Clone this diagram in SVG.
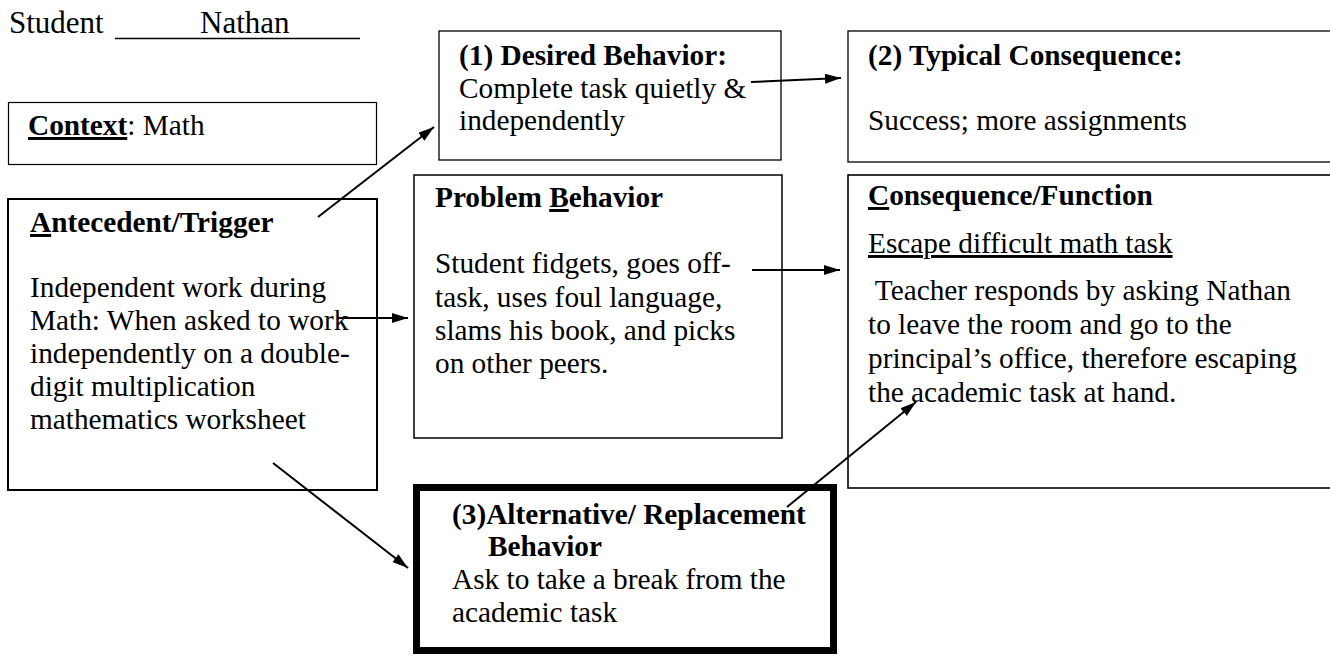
<svg xmlns="http://www.w3.org/2000/svg" width="1330" height="656" viewBox="0 0 1330 656">
<defs>
<style>
text{font-family:"Liberation Serif","Times New Roman",serif;font-size:29.3px;fill:#000}
.b{font-weight:bold}
.u{text-decoration:underline}
.box{fill:#fff;stroke:#000}
.conn line{stroke:#000;stroke-width:2}
</style>
<marker id="ah" markerUnits="userSpaceOnUse" markerWidth="18" markerHeight="12" refX="16" refY="5" orient="auto">
<path d="M0,0 L16,5 L0,10 Z" fill="#000"/>
</marker>
</defs>
<rect width="1330" height="656" fill="#fff"/>
<g id="student">
<text x="9" y="33" style="font-size:31px">Student</text>
<text x="200" y="33" style="font-size:31px">Nathan</text>
<line x1="115" y1="38.5" x2="360" y2="38.5" stroke="#000" stroke-width="1.6"/>
</g>
<g id="context">
<rect class="box" x="8.5" y="102.5" width="368" height="62" stroke-width="1.2"/>
<text x="28" y="135"><tspan class="b u">Context</tspan>: Math</text>
</g>
<g id="antecedent">
<rect class="box" x="8" y="199" width="369" height="291" stroke-width="2"/>
<text x="30" y="232" class="b"><tspan class="u">A</tspan>ntecedent/Trigger</text>
<text x="30" y="297">Independent work during</text>
<text x="30" y="330">Math: When asked to work</text>
<text x="30" y="363">independently on a double-</text>
<text x="30" y="396">digit multiplication</text>
<text x="30" y="429">mathematics worksheet</text>
</g>
<g id="desired">
<rect class="box" x="439" y="31" width="342" height="129" stroke-width="1.3"/>
<text x="459" y="65" class="b">(1) Desired Behavior:</text>
<text x="459" y="98">Complete task quietly &amp;</text>
<text x="459" y="130">independently</text>
</g>
<g id="typical">
<rect class="box" x="848" y="31" width="500" height="131" stroke-width="1.3"/>
<text x="868" y="65" class="b">(2) Typical Consequence:</text>
<text x="868" y="130">Success; more assignments</text>
</g>
<g id="problem">
<rect class="box" x="414" y="175" width="368" height="263" stroke-width="1.5"/>
<text x="435" y="207" class="b">Problem <tspan class="u">B</tspan>ehavior</text>
<text x="435" y="273">Student fidgets, goes off-</text>
<text x="435" y="307">task, uses foul language,</text>
<text x="435" y="340">slams his book, and picks</text>
<text x="435" y="373">on other peers.</text>
</g>
<g id="consequence">
<rect class="box" x="848" y="175" width="500" height="313" stroke-width="1.6"/>
<text x="868" y="205" class="b"><tspan class="u">C</tspan>onsequence/Function</text>
<text x="868" y="253" class="u">Escape difficult math task</text>
<text x="868" y="300" xml:space="preserve"> Teacher responds by asking Nathan</text>
<text x="868" y="334">to leave the room and go to the</text>
<text x="868" y="368">principal’s office, therefore escaping</text>
<text x="868" y="402">the academic task at hand.</text>
</g>
<g id="alternative">
<rect class="box" x="416.5" y="487.5" width="417" height="163" stroke-width="7"/>
<text x="452" y="524" class="b">(3)Alternative/ Replacement</text>
<text x="488" y="556" class="b">Behavior</text>
<text x="452" y="589">Ask to take a break from the</text>
<text x="452" y="622">academic task</text>
</g>
<g id="connectors" class="conn">
<line x1="318" y1="217" x2="434" y2="127" marker-end="url(#ah)"/>
<line x1="751" y1="82" x2="841" y2="78" marker-end="url(#ah)"/>
<line x1="337" y1="318" x2="408" y2="318" marker-end="url(#ah)"/>
<line x1="752" y1="270" x2="840" y2="270" marker-end="url(#ah)"/>
<line x1="273" y1="463" x2="408" y2="568" marker-end="url(#ah)"/>
<line x1="787" y1="507" x2="916" y2="402" marker-end="url(#ah)"/>
</g>
</svg>
